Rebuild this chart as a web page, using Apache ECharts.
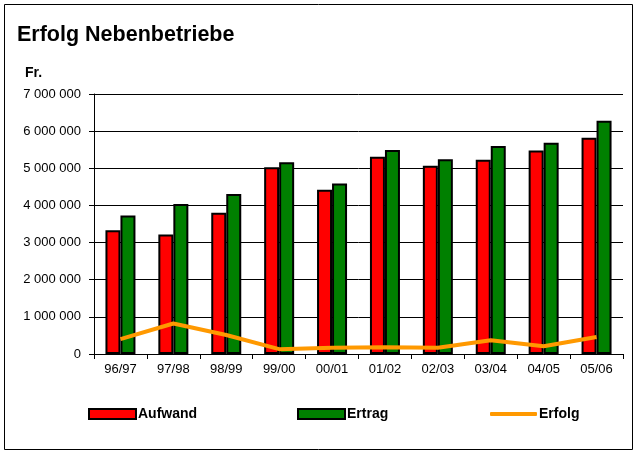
<!DOCTYPE html>
<html>
<head>
<meta charset="utf-8">
<script src="https://cdn.jsdelivr.net/npm/echarts@6/dist/echarts.min.js"></script>
<style>
html,body{margin:0;padding:0;background:#fff;}
#main{width:636px;height:452px;}
</style>
</head>
<body>
<div id="main"></div>
<script>
// Erfolg Nebenbetriebe - Aufwand / Ertrag / Erfolg
var jahre = ['96/97','97/98','98/99','99/00','00/01','01/02','02/03','03/04','04/05','05/06'];
var aufwand = [3330000,3220000,3800000,5030000,4420000,5310000,5070000,5230000,5480000,5820000];
var ertrag = [3730000,4040000,4310000,5160000,4590000,5490000,5240000,5600000,5690000,6280000];
var erfolg = [400000,820000,510000,130000,170000,180000,170000,370000,210000,460000];

var fontName = 'Liberation Sans, Arial, sans-serif';

function tausender(v){
	return String(v).replace(/\B(?=(\d{3})+(?!\d))/g, ' ');
}

var legendText = {fontFamily: fontName, fontSize: 14, fontWeight: 'bold', color: '#000', padding: [0,0,0,-3]};

var myChart = echarts.init(document.getElementById('main'));

myChart.setOption({
	animation: false,
	textStyle: {fontFamily: fontName, color: '#000'},
	title: [{
		text: 'Erfolg Nebenbetriebe',
		left: 17, top: 24, padding: 0,
		textStyle: {fontFamily: fontName, fontSize: 21.5, fontWeight: 'bold', color: '#000'}
	},{
		text: 'Fr.',
		left: 25, top: 66, padding: 0,
		textStyle: {fontFamily: fontName, fontSize: 14, fontWeight: 'bold', color: '#000'}
	}],
	graphic: [{
		type: 'rect',
		shape: {x: 4.5, y: 4.5, width: 628, height: 445},
		style: {fill: 'none', stroke: '#000', lineWidth: 1},
		silent: true
	}],
	legend: [{
		data: [{name: 'Aufwand', icon: 'rect'}], left: 88, top: 407, padding: 0,
		itemWidth: 47, itemHeight: 10,
		textStyle: legendText
	},{
		data: [{name: 'Ertrag', icon: 'rect'}], left: 297, top: 407, padding: 0,
		itemWidth: 47, itemHeight: 10,
		textStyle: legendText
	},{
		data: [{name: 'Erfolg', icon: 'roundRect'}], left: 490, top: 407, padding: 0,
		itemWidth: 47, itemHeight: 4,
		textStyle: legendText
	}],
	grid: {left: 94, right: 13, top: 94, bottom: 98, containLabel: false},
	xAxis: {
		type: 'category',
		data: jahre,
		axisLine: {lineStyle: {color: '#000', width: 1}},
		axisTick: {show: true, length: 5, lineStyle: {color: '#000'}},
		axisLabel: {color: '#000', fontSize: 13, fontFamily: fontName, margin: 9}
	},
	yAxis: {
		type: 'value',
		min: 0, max: 7000000, interval: 1000000,
		axisLine: {show: true, lineStyle: {color: '#000', width: 1}},
		axisTick: {show: true, length: 5, lineStyle: {color: '#000'}},
		splitLine: {show: true, lineStyle: {color: '#000', width: 1}},
		axisLabel: {color: '#000', fontSize: 13, fontFamily: fontName, margin: 13, formatter: tausender}
	},
	series: [{
		name: 'Aufwand',
		type: 'bar',
		data: aufwand,
		barWidth: 15,
		barGap: '0%',
		itemStyle: {color: '#FF0000', borderColor: '#000', borderWidth: 2}
	},{
		name: 'Ertrag',
		type: 'bar',
		data: ertrag,
		barWidth: 15,
		itemStyle: {color: '#008000', borderColor: '#000', borderWidth: 2}
	},{
		name: 'Erfolg',
		type: 'line',
		data: erfolg,
		symbol: 'none',
		z: 5,
		itemStyle: {color: '#FF9900'},
		lineStyle: {color: '#FF9900', width: 4}
	}]
});
</script>
</body>
</html>
